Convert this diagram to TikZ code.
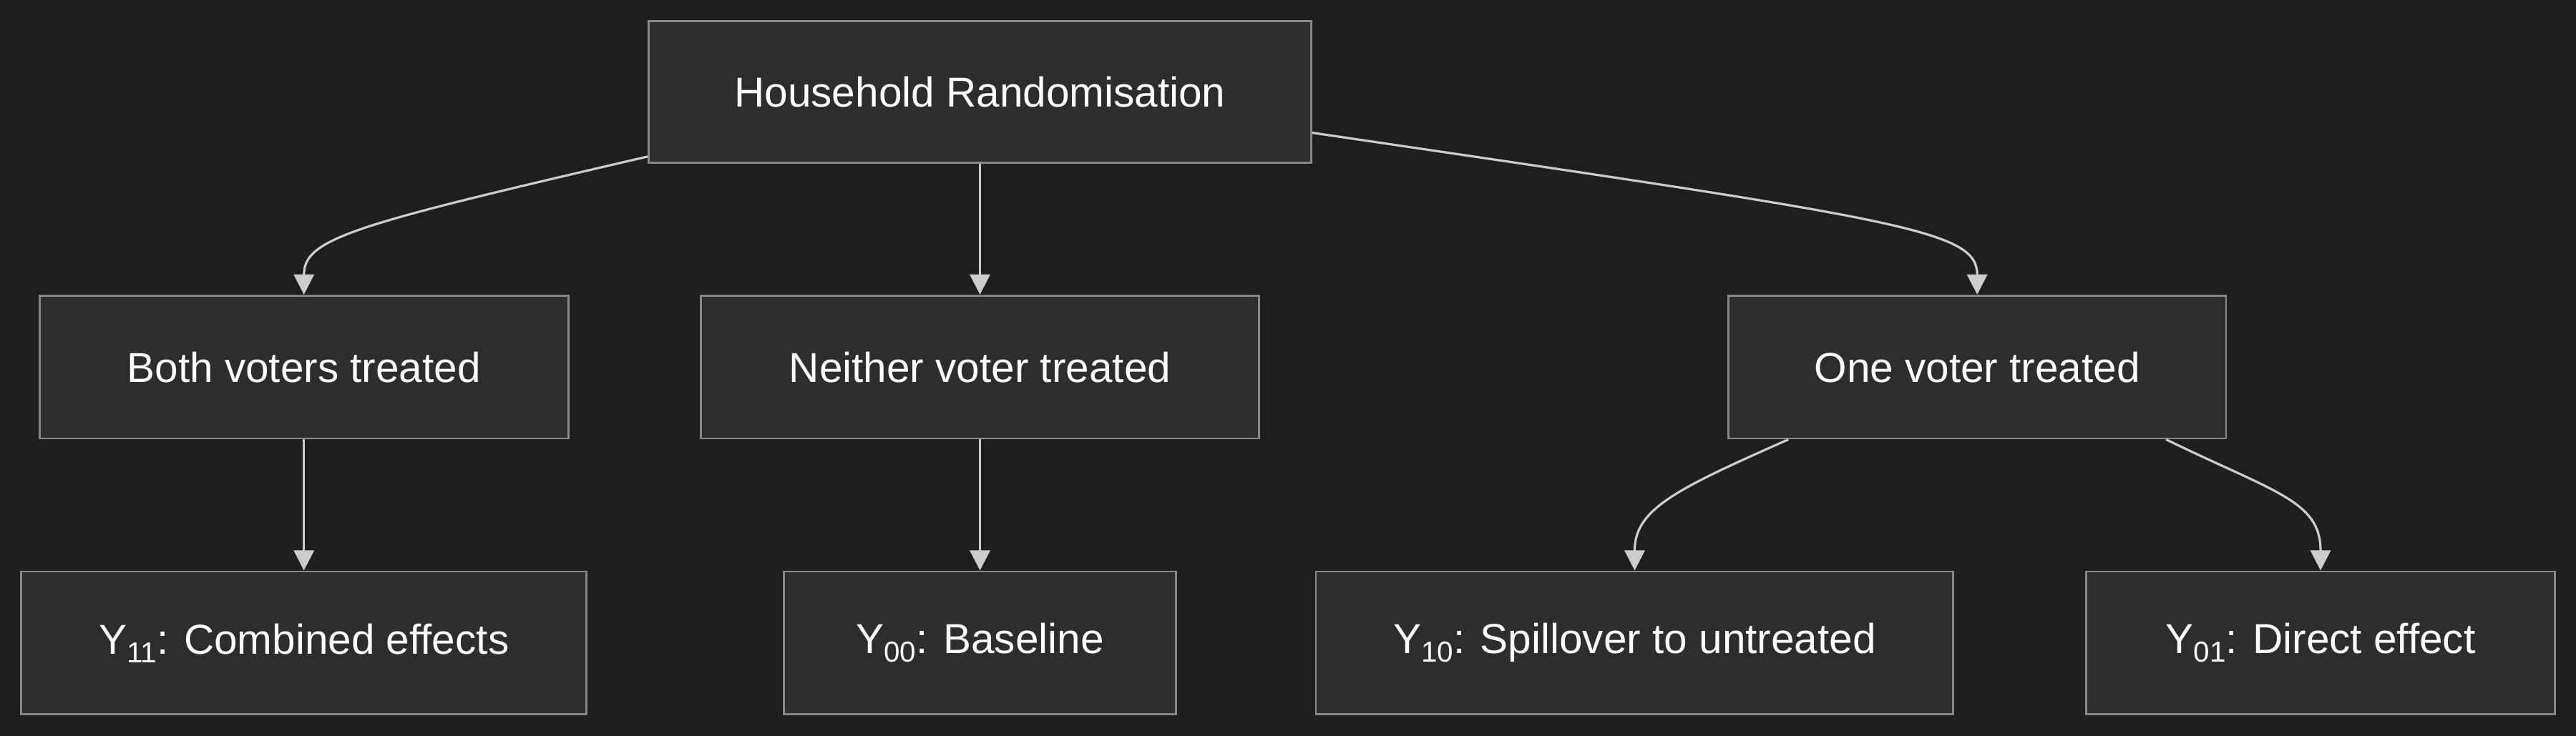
\documentclass[tikz,border=0pt]{standalone}
\usepackage{fontspec}
\setmainfont{Liberation Sans}
\usepackage{xcolor}
\usepackage{tikz}
\usetikzlibrary{shapes,arrows.meta,positioning}

\definecolor{bgdark}{HTML}{1E1E1E}
\definecolor{boxfill}{HTML}{2D2D2D}
\definecolor{boxline}{HTML}{888888}
\definecolor{edgeline}{HTML}{CCCCCC}

% lowered subscript as in the outcome labels
\newcommand{\outsub}[1]{\raisebox{-3pt}{\fontsize{10}{10}\selectfont #1}}

\begin{document}
\begin{tikzpicture}[x=0.2mm, y=-0.2mm,
  every node/.style={font=\fontsize{14.5}{17}\selectfont, align=center, text=white},
  box/.style={draw=boxline, line width=0.7pt, fill=boxfill, rectangle, minimum height=17.4mm, inner sep=0pt},
  edge/.style={draw=edgeline, line width=0.8pt, -{Triangle[length=7pt, width=7pt]}}]
% Background
\fill[bgdark] (0,0) rectangle (1568,448);
% Root
\node[box, minimum width=80.6mm, minimum height=17.2mm] (rand) at (596.5,56) {Household Randomisation};
% Level 1
\node[box, minimum width=64.4mm] (both) at (185,223.5) {Both voters treated};
\node[box, minimum width=68mm] (neither) at (596.5,223.5) {Neither voter treated};
\node[box, minimum width=60.6mm] (one) at (1203.5,223.5) {One voter treated};
% Level 2
\node[box, minimum width=68.8mm] (y11) at (185,391.5) {Y\outsub{11}: Combined effects};
\node[box, minimum width=47.8mm] (y00) at (596.5,391.5) {Y\outsub{00}: Baseline};
\node[box, minimum width=77.6mm] (y10) at (995,391.5) {Y\outsub{10}: Spillover to untreated};
\node[box, minimum width=57mm] (y01) at (1412.5,391.5) {Y\outsub{01}: Direct effect};
% Arrows
\draw[edge] (rand.191.5) .. controls (215,137) and (185,145) .. (both.north);
\draw[edge] (rand.south) -- (neither.north);
\draw[edge] (rand.-7.9) .. controls (1160,134) and (1203.5,140) .. (one.north);
\draw[edge] (both.south) -- (y11.north);
\draw[edge] (neither.south) -- (y00.north);
\draw[edge] (one.201.85) .. controls (1020,298) and (995,310) .. (y10.north);
\draw[edge] (one.-21.67) .. controls (1385,300) and (1412.5,305) .. (y01.north);
\end{tikzpicture}
\end{document}
